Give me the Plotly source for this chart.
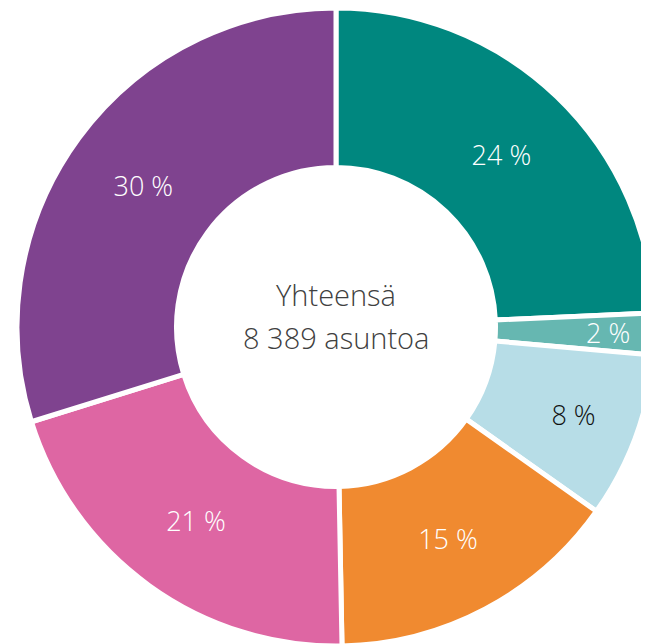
import math
import plotly.graph_objects as go

# Shares of dwellings (%), clockwise from 12 o'clock
categories = ["A", "B", "C", "D", "E", "F"]
shares = [24.3, 2.1, 8.4, 14.9, 20.5, 29.8]
share_labels = ["24 %", "2 %", "8 %", "15 %", "21 %", "30 %"]
colors = ["#00877F", "#66B7B1", "#B7DDE7", "#F08A30", "#DE66A3", "#7F438F"]
label_colors = ["white", "white", "#111111", "white", "white", "white"]
center_line1 = "Yhteensä"
center_line2 = "8 389 asuntoa"

W, H = 656, 638
LABEL_FONT = "Open Sans"

# the thin slice gets its label as an annotation near the outer rim
thin = 1
positions = ["none" if i == thin else "inside" for i in range(len(shares))]

fig = go.Figure(
    go.Pie(
        labels=categories,
        values=shares,
        text=share_labels,
        textinfo="text",
        textposition=positions,
        insidetextorientation="horizontal",
        sort=False,
        direction="clockwise",
        rotation=0,
        hole=0.5,
        marker=dict(colors=colors, line=dict(color="white", width=5)),
        textfont=dict(family=LABEL_FONT, size=27, color=label_colors, weight=300),
        domain=dict(x=[0, 1], y=[0, 1]),
        hoverinfo="skip",
        showlegend=False,
    )
)

# mid-angle of the thin slice (clockwise from 12 o'clock)
total = sum(shares)
start = sum(shares[:thin]) / total * 2 * math.pi
mid = start + shares[thin] / total * math.pi
r_px = min(W, H) / 2 * 0.853
fig.add_annotation(
    text=share_labels[thin],
    x=0.5 + r_px * math.sin(mid) / W,
    y=0.5 + r_px * math.cos(mid) / H,
    xref="paper", yref="paper", showarrow=False,
    xanchor="center", yanchor="middle",
    font=dict(family=LABEL_FONT, size=27, color=label_colors[thin], weight=300),
)

fig.add_annotation(
    text=center_line1, x=0.5, y=1 - 286 / H, xref="paper", yref="paper",
    showarrow=False, xanchor="center", yanchor="middle",
    font=dict(family=LABEL_FONT, size=29, color="#404040", weight=300),
)
fig.add_annotation(
    text=center_line2, x=0.5, y=1 - 329 / H, xref="paper", yref="paper",
    showarrow=False, xanchor="center", yanchor="middle",
    font=dict(family=LABEL_FONT, size=29, color="#404040", weight=300),
)

fig.update_layout(
    width=W, height=H,
    margin=dict(l=0, r=0, t=0, b=0),
    paper_bgcolor="white", plot_bgcolor="white",
    uniformtext=dict(minsize=27, mode="show"),
)

fig.write_html("out.html")
